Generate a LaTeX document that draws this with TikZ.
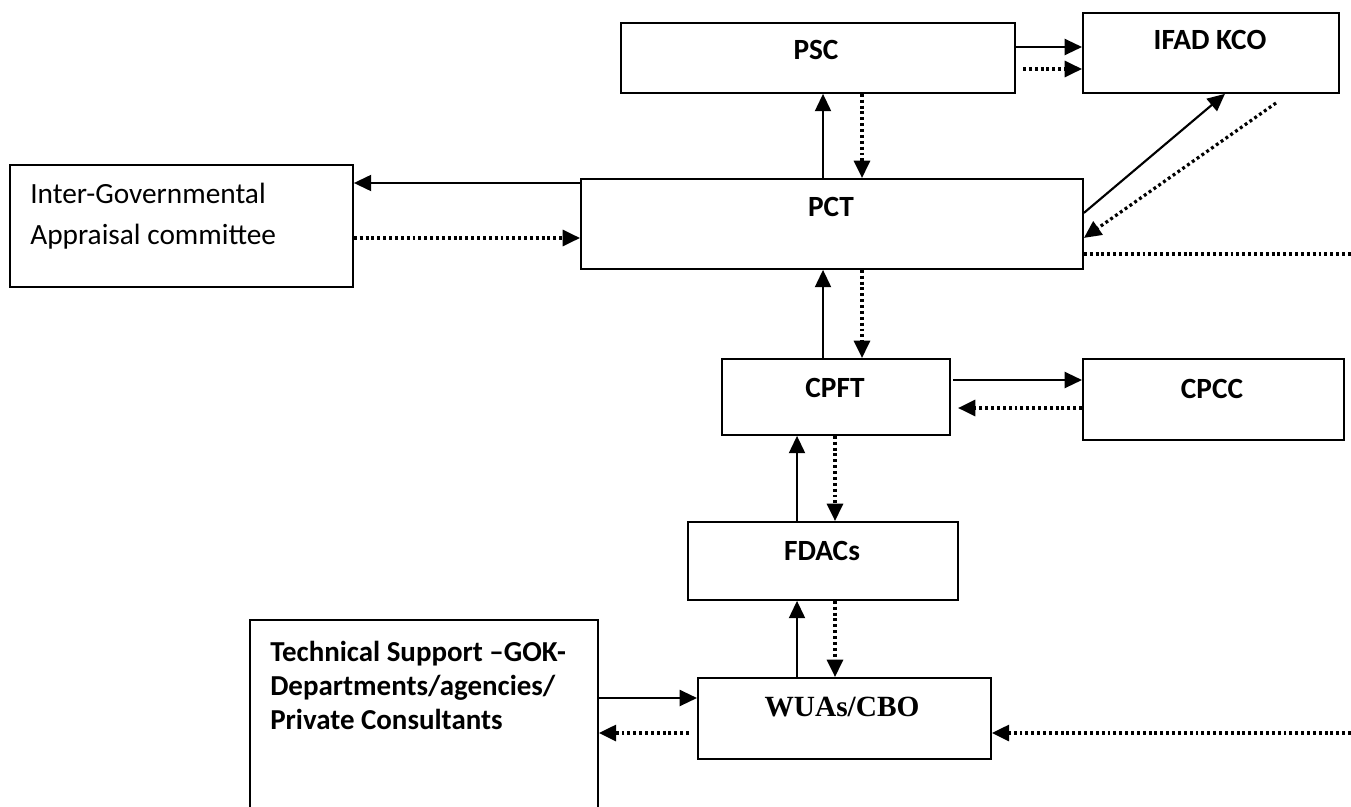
\documentclass[tikz,border=0pt]{standalone}
\usepackage{fontspec}
\setmainfont{Carlito}
\newfontfamily\timesfont{Liberation Serif}
\usetikzlibrary{arrows.meta}
\tikzset{
 box/.style={draw, line width=1.4pt, rectangle, inner sep=0pt, anchor=north west},
 lbl/.style={font=\fontsize{22}{26}\selectfont\bfseries, anchor=base, inner sep=0pt},
 plaintext/.style={font=\fontsize{22}{26}\selectfont, anchor=base west, inner sep=0pt},
 boldleft/.style={font=\fontsize{21.7}{26}\selectfont\bfseries, anchor=base west, inner sep=0pt},
 solidarrow/.style={line width=1.6pt, -{Triangle[length=13pt,width=12pt]}},
 dotarrow/.style={line width=2.4pt, dash pattern=on 2.2pt off 2.2pt, -{Triangle[length=13pt,width=12pt]}},
 dotline/.style={line width=2.4pt, dash pattern=on 2.2pt off 2.2pt},
}
\newcommand{\mkbox}[5]{\node[box, minimum width=#4*0.75pt, minimum height=#5*0.75pt] (#1) at (#2,#3) {};}
\begin{document}
\begin{tikzpicture}[x=0.75pt,y=-0.75pt]
\useasboundingbox (0,0) rectangle (1351,806);
\clip (0,0) rectangle (1351,806);
% boxes
\mkbox{psc}{620}{22}{394}{70}
\mkbox{ifad}{1082}{12}{256}{80}
\mkbox{igac}{9}{164}{343}{122}
\mkbox{pct}{580}{178}{502}{90}
\mkbox{cpft}{721}{358}{228}{76}
\mkbox{cpcc}{1082}{358}{261}{81}
\mkbox{fdacs}{687}{521}{270}{78}
\mkbox{tech}{249}{619}{348}{220}
\mkbox{wuas}{697}{677}{293}{81}
% texts
\node[lbl] (psc-t) at (816,60) {PSC};
\node[lbl] (ifad-t) at (1210,50) {IFAD KCO};
\node[lbl] (pct-t) at (831,216) {PCT};
\node[lbl] (cpft-t) at (835,397) {CPFT};
\node[lbl] (cpcc-t) at (1212,398) {CPCC};
\node[lbl] (fdacs-t) at (822,560) {FDACs};
\node[lbl, font=\fontsize{22}{26}\selectfont\timesfont\bfseries] (wuas-t) at (842,716) {WUAs/CBO};
\node[plaintext] (igac-t1) at (30,203) {Inter-Governmental};
\node[plaintext] (igac-t2) at (30,244) {Appraisal committee};
\node[boldleft] (tech-t1) at (270,661) {Technical Support –GOK-};
\node[boldleft] (tech-t2) at (270,695) {Departments/agencies/};
\node[boldleft] (tech-t3) at (270,729) {Private Consultants};
% helper coordinates
\coordinate (cA) at (823,0);
\coordinate (cB) at (862,0);
\coordinate (cC) at (797,0);
\coordinate (cD) at (835,0);
\coordinate (rA) at (0,47);
\coordinate (rB) at (0,69);
\coordinate (rC) at (0,183);
\coordinate (rD) at (0,238);
\coordinate (rE) at (0,254);
\coordinate (rF) at (0,380);
\coordinate (rG) at (0,408);
\coordinate (rH) at (0,698);
\coordinate (rI) at (0,733);
\coordinate (pscdot) at (1023,69);
\coordinate (diagstart) at (1276,103);
\coordinate (rightend) at (1351,254);
\coordinate (rightstart) at (1351,733);
\coordinate (cpftgap) at (953,380);
\coordinate (cpftdot) at (958,408);
\coordinate (wuasdot) at (689,733);
% connectors
\draw[solidarrow] (pct.north -| cA) -- (psc.south -| cA);
\draw[dotarrow] (psc.south -| cB) -- (pct.north -| cB);
\draw[solidarrow] (psc.east |- rA) -- (ifad.west |- rA);
\draw[dotarrow] (pscdot) -- (ifad.west |- rB);
\draw[solidarrow] ([shift={(0,-11)}]pct.east) -- ([shift={(14,0)}]ifad.south);
\draw[dotarrow] (diagstart) -- ([shift={(0,14)}]pct.east);
\draw[dotline] (pct.east |- rE) -- (rightend);
\draw[solidarrow] (pct.west |- rC) -- (igac.east |- rC);
\draw[dotarrow] (igac.east |- rD) -- (pct.west |- rD);
\draw[solidarrow] (cpft.north -| cA) -- (pct.south -| cA);
\draw[dotarrow] (pct.south -| cB) -- (cpft.north -| cB);
\draw[solidarrow] (cpftgap) -- (cpcc.west |- rF);
\draw[dotarrow] (cpcc.west |- rG) -- (cpftdot);
\draw[solidarrow] (fdacs.north -| cC) -- (cpft.south -| cC);
\draw[dotarrow] (cpft.south -| cD) -- (fdacs.north -| cD);
\draw[solidarrow] (wuas.north -| cC) -- (fdacs.south -| cC);
\draw[dotarrow] (fdacs.south -| cD) -- (wuas.north -| cD);
\draw[solidarrow] (tech.east |- rH) -- (wuas.west |- rH);
\draw[dotarrow] (wuasdot) -- (tech.east |- rI);
\draw[dotarrow] (rightstart) -- (wuas.east |- rI);
\end{tikzpicture}
\end{document}
